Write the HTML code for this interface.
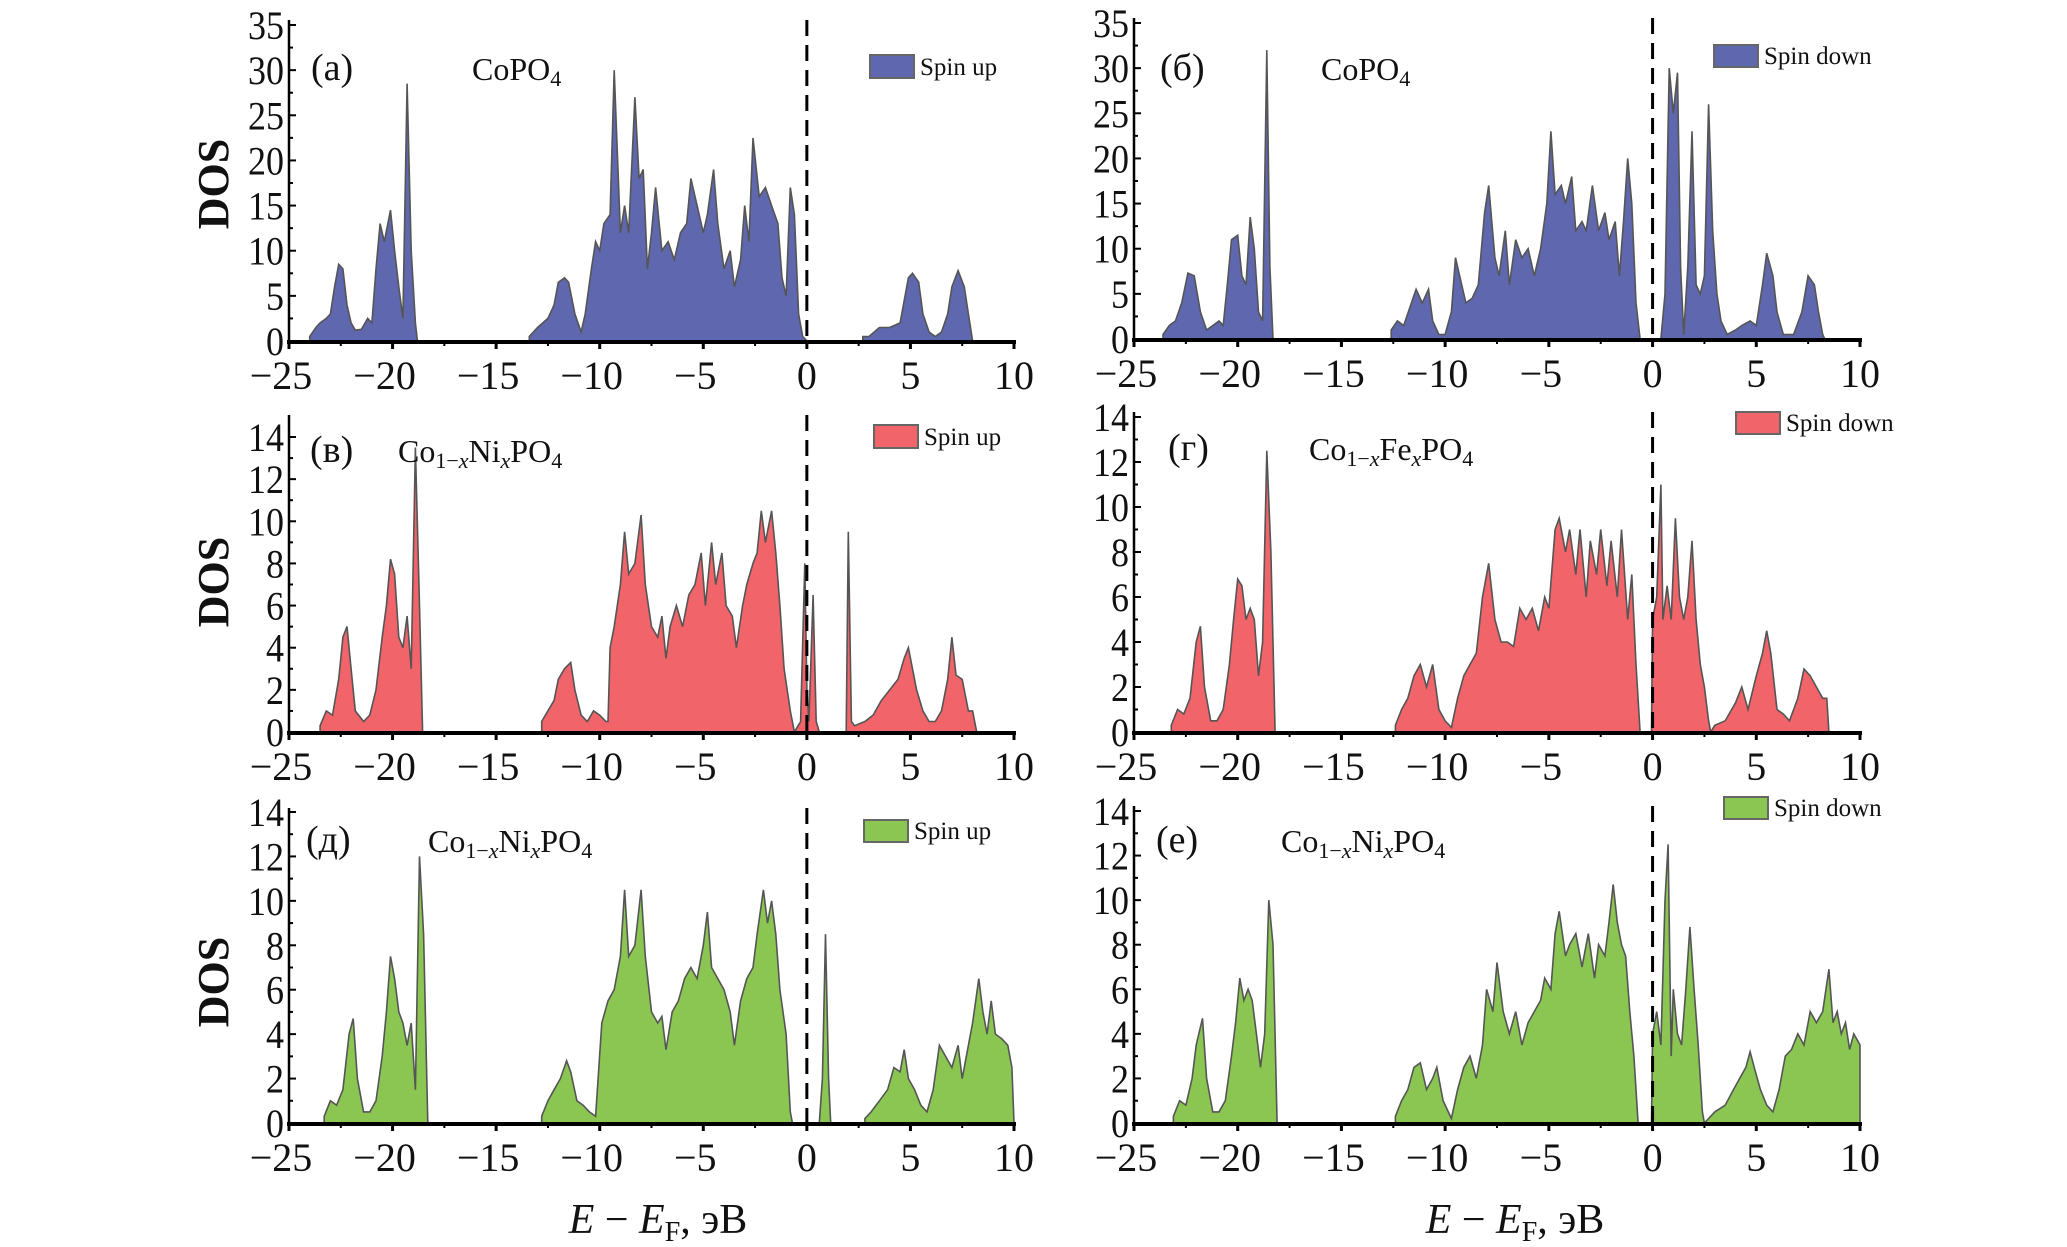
<!DOCTYPE html>
<html>
<head>
<meta charset="utf-8">
<style>
  html, body { margin:0; padding:0; background:#fff; }
  body { width:2067px; height:1247px; overflow:hidden; }
  svg { display:block; }
  text { font-family: "Liberation Serif", "DejaVu Serif", serif; fill:#111; }
</style>
</head>
<body>
<svg id="fig" width="2067" height="1247" viewBox="0 0 2067 1247" xmlns="http://www.w3.org/2000/svg"></svg>
<script>
// ---------- DATA ----------
// Panel (a) CoPO4 spin up
const energyA = [-24.0,-23.7,-23.5,-23.2,-23.0,-22.8,-22.6,-22.4,-22.2,-22.0,-21.8,-21.5,-21.2,-21.0,-20.8,-20.6,-20.4,-20.1,-19.9,-19.7,-19.5,-19.3,-19.1,-18.9,-18.8,
  -13.4,-13.0,-12.5,-12.2,-12.0,-11.7,-11.5,-11.2,-10.9,-10.7,-10.4,-10.2,-10.0,-9.8,-9.5,-9.3,-9.0,-8.8,-8.6,-8.3,-8.1,-7.9,-7.7,-7.5,-7.3,-7.0,-6.7,-6.4,-6.1,-5.8,-5.6,-5.3,-5.0,-4.8,-4.5,-4.3,-4.0,-3.7,-3.5,-3.2,-3.0,-2.8,-2.6,-2.3,-2.0,-1.7,-1.4,-1.2,-1.0,-0.8,-0.6,-0.4,-0.2,0.0,
  2.7,3.0,3.5,4.0,4.5,4.9,5.1,5.4,5.6,5.9,6.2,6.5,6.8,7.0,7.3,7.6,7.8,8.0];
const dosA = [0.5,1.5,2,2.5,3,6,8.5,8,4,2,1.2,1.3,2.5,2,8,13,11,14.5,10,6,2.5,28.5,10,2,0,
  0.5,1.5,2.5,4,6.5,7,6.5,3,1,3,8,11,10,13,14,30,12,15,12,27,18,19,8,12,17,10,11,9,12,13,18,15,12,14,19,13,8,10,6,9,15,11,22.5,16,17,15,13,7,5,17,14,3,0.5,0,
  0.5,0.5,1.5,1.5,2,7,7.5,6.5,3,1,0.5,1,3,6,7.8,6,3,0];
// Panel (б) CoPO4 spin down
const energyB = [-23.6,-23.3,-23.0,-22.7,-22.4,-22.1,-21.8,-21.5,-21.2,-20.9,-20.7,-20.5,-20.3,-20.0,-19.8,-19.6,-19.4,-19.2,-19.0,-18.8,-18.6,-18.45,-18.3,
  -12.6,-12.3,-12.0,-11.7,-11.4,-11.1,-10.8,-10.6,-10.3,-10.0,-9.7,-9.5,-9.2,-9.0,-8.7,-8.4,-8.1,-7.9,-7.6,-7.4,-7.1,-6.9,-6.6,-6.3,-6.0,-5.7,-5.4,-5.1,-4.9,-4.7,-4.4,-4.2,-3.9,-3.7,-3.4,-3.2,-2.9,-2.6,-2.3,-2.1,-1.8,-1.6,-1.4,-1.2,-1.0,-0.8,-0.6,
  0.4,0.6,0.8,1.0,1.2,1.35,1.5,1.7,1.9,2.1,2.3,2.5,2.7,2.9,3.1,3.3,3.6,4.0,4.3,4.7,5.0,5.3,5.5,5.8,6.0,6.3,6.8,7.2,7.5,7.8,8.0,8.2,8.3];
const dosB = [0.5,1.5,2,4,7.3,7,3,1,1.5,2,1.5,6,11,11.5,7,6,13.5,10,3,2,32,8,0,
  1,2,1.5,3.5,5.5,4,5.5,2,0.5,0.5,3,9,6,4,4.5,6,14,17,9,7,12,6,11,9,10,7,10,15,23,16,17,15,18,12,13,12,17,12,14,11,13,7,13,20,15,4,0,
  0,5,30,25,29.5,8,0.5,8,23,6,5,7,26,12,5,2,0.5,1,1.5,2,1.5,6,9.5,7,3,0.5,0.5,3,7,6,3,0.5,0];
// Panel (в) Co1-xNixPO4 spin up
const energyC = [-23.5,-23.2,-22.9,-22.6,-22.4,-22.2,-22.0,-21.8,-21.4,-21.1,-20.8,-20.5,-20.3,-20.1,-19.9,-19.7,-19.5,-19.3,-19.1,-18.9,-18.7,-18.55,
  -12.8,-12.5,-12.2,-12.0,-11.7,-11.4,-11.2,-10.9,-10.6,-10.3,-10.0,-9.7,-9.6,-9.5,-9.3,-9.0,-8.8,-8.6,-8.3,-8.0,-7.8,-7.5,-7.2,-7.0,-6.8,-6.6,-6.3,-6.0,-5.7,-5.4,-5.1,-4.9,-4.6,-4.4,-4.1,-3.9,-3.6,-3.4,-3.1,-2.9,-2.6,-2.4,-2.2,-2.0,-1.7,-1.5,-1.3,-1.1,-0.8,-0.6,
  -0.3,-0.1,0.0,0.1,0.3,0.45,0.6,1.9,2.0,2.15,2.3,2.8,3.2,3.6,4.0,4.4,4.7,4.9,5.1,5.3,5.6,5.9,6.2,6.5,6.8,7.0,7.2,7.5,7.8,8.0,8.2];
const dosC = [0.3,1,0.8,2.5,4.5,5,3,1,0.5,0.8,2,4.5,6,8.2,7.5,4.5,4,5.5,3,13.5,6,0,
  0.5,1,1.5,2.5,3,3.3,2,0.8,0.5,1,0.8,0.5,0.5,4,5,7,9.5,7.5,8,10.3,7,5,4.5,5.5,3.5,5,6,5,6.5,7,8.5,6,9,7,8.5,6,5.5,4,6,7,8,8.5,10.5,9,10.5,8.5,6,3,1,0,
  0.5,8,2,0.5,6.5,0.5,0,0,9.5,0.5,0.3,0.5,0.8,1.5,2,2.5,3.5,4,3,2,1,0.5,0.5,1,2.5,4.5,2.7,2.5,1,1,0];
// Panel (г) Co1-xFexPO4 spin down
const energyD = [-23.2,-22.9,-22.6,-22.3,-22.0,-21.8,-21.6,-21.3,-21.0,-20.7,-20.4,-20.2,-20.0,-19.8,-19.6,-19.4,-19.2,-19.0,-18.8,-18.6,-18.4,-18.2,
  -12.4,-12.1,-11.8,-11.5,-11.2,-10.9,-10.6,-10.3,-10.0,-9.7,-9.4,-9.1,-8.8,-8.5,-8.2,-7.9,-7.6,-7.3,-7.0,-6.7,-6.4,-6.1,-5.8,-5.5,-5.2,-5.0,-4.7,-4.5,-4.2,-4.0,-3.7,-3.5,-3.2,-3.0,-2.7,-2.5,-2.2,-2.0,-1.7,-1.5,-1.2,-1.0,-0.8,-0.6,
  -0.05,0.0,0.2,0.4,0.5,0.7,0.9,1.1,1.3,1.5,1.7,1.9,2.1,2.3,2.5,2.7,2.8,3.0,3.5,4.0,4.3,4.6,5.0,5.3,5.5,5.7,6.0,6.3,6.6,7.0,7.3,7.6,7.9,8.2,8.4,8.5];
const dosD = [0.3,1,0.8,1.5,4,4.7,2,0.5,0.5,1,3,5,6.8,6.5,5,5.5,5,2.5,4,12.5,8,0,
  0.3,1,1.5,2.5,3,2,3,1,0.5,0.2,1.5,2.5,3,3.5,6,7.5,5,4,4,3.8,5.5,5,5.5,4.5,6,5.5,9,9.5,8,9,7,9,6,8.5,7,9,6.5,8.5,6,9,5,7,3,0,
  0,5,6,11,5,6.5,5,9.5,6,5,6,8.5,5,3,2,0.5,0,0.3,0.5,1.3,2,1,2.5,3.5,4.5,3.5,1,0.8,0.5,1.5,2.8,2.5,2,1.5,1.5,0];
// Panel (д) Co1-xNixPO4 spin up
const energyE = [-23.3,-23.0,-22.7,-22.4,-22.1,-21.9,-21.7,-21.4,-21.1,-20.8,-20.5,-20.3,-20.1,-19.9,-19.7,-19.5,-19.3,-19.1,-18.9,-18.7,-18.5,-18.3,
  -12.8,-12.5,-12.2,-11.9,-11.6,-11.4,-11.1,-10.8,-10.5,-10.2,-9.9,-9.6,-9.3,-9.0,-8.8,-8.6,-8.3,-8.0,-7.8,-7.5,-7.2,-7.0,-6.8,-6.5,-6.2,-5.9,-5.6,-5.3,-5.0,-4.8,-4.6,-4.3,-4.0,-3.7,-3.5,-3.2,-2.9,-2.6,-2.4,-2.1,-1.9,-1.7,-1.5,-1.3,-1.0,-0.8,-0.7,
  0.6,0.75,0.9,1.05,1.15,
  2.8,3.1,3.5,3.9,4.2,4.5,4.7,4.9,5.2,5.5,5.8,6.1,6.4,6.7,7.0,7.3,7.5,7.8,8.0,8.3,8.5,8.7,8.9,9.1,9.4,9.7,9.9,10.0];
const dosE = [0.3,1,0.8,1.5,4,4.7,2,0.5,0.5,1,3,5,7.5,6.5,5,4.5,3.5,4.5,1.5,12,8.5,0,
  0.3,1,1.5,2,2.8,2.3,1,0.8,0.5,0.3,4.5,5.5,6,7.5,10.5,7.5,8,10.5,7.5,5,4.5,4.8,3.3,5,5.5,6.5,7,6.5,8,9.5,7,6.5,6,5,3.5,5.5,6.5,7,8.5,10.5,9,10,8.5,6,4,0.5,0,
  0,2,8.5,2,0,
  0.2,0.5,1,1.5,2.5,2.3,3.3,2,1.5,0.8,0.5,1.5,3.5,3,2.5,3.5,2,3.5,4.5,6.5,5,4,5.5,4,3.8,3.5,2.5,0];
// Panel (е) Co1-xNixPO4 spin down
const energyF = [-23.1,-22.8,-22.5,-22.2,-22.0,-21.7,-21.5,-21.2,-20.9,-20.6,-20.3,-20.1,-19.9,-19.7,-19.5,-19.3,-19.1,-18.9,-18.7,-18.5,-18.3,-18.1,
  -12.4,-12.1,-11.8,-11.5,-11.2,-10.9,-10.6,-10.4,-10.1,-9.7,-9.4,-9.1,-8.8,-8.5,-8.2,-8.0,-7.7,-7.5,-7.2,-6.9,-6.6,-6.3,-6.0,-5.7,-5.4,-5.2,-4.9,-4.7,-4.5,-4.2,-4.0,-3.7,-3.4,-3.1,-2.8,-2.6,-2.3,-2.1,-1.9,-1.7,-1.5,-1.3,-1.1,-0.9,-0.7,
  -0.05,0.0,0.2,0.4,0.6,0.75,0.9,1.0,1.2,1.4,1.6,1.8,2.0,2.2,2.4,2.5,
  2.7,3.0,3.5,3.9,4.2,4.5,4.7,4.9,5.2,5.5,5.8,6.1,6.4,6.7,7.0,7.3,7.6,7.9,8.2,8.5,8.7,8.9,9.1,9.3,9.5,9.7,10.0];
const dosF = [0.3,1,0.8,2,3.5,4.7,2,0.5,0.5,1,3,4.5,6.5,5.5,6,5.5,4,2.5,4,10,8,0,
  0.3,1,1.5,2.5,2.7,1.5,2,2.5,1,0.2,1.5,2.5,3,2,3.5,6,5,7.2,5,4,5,3.5,4.5,5,5.5,6.5,6,8.5,9.5,7.5,8,8.5,7,8.5,6.5,8,7.5,9,10.7,9,8,7.5,5,3,0,
  0,4,5,3.5,10,12.5,3,6,4,3.5,6,8.8,6,3.5,0.5,0,
  0.2,0.5,0.8,1.5,2,2.5,3.2,2.5,1.5,0.8,0.5,1.5,3,3.3,4,3.5,5,4.5,5,6.9,4.5,5,4,4.5,3.3,4,3.5];

const xTicks = [-25,-20,-15,-10,-5,0,5,10];
const yTicksBig = [0,5,10,15,20,25,30,35];
const yTicksSmall = [0,2,4,6,8,10,12,14];

// ---------- LAYOUT ----------
const LX0 = 289, LX1 = 1014, RX0 = 1134, RX1 = 1860;
const panels = [
  {id:'a', label:'(a)', E:energyA, D:dosA, x0:LX0, x1:LX1, yb:341, yt:25, ymax:35, yt2:20, ticks:yTicksBig, fill:'#5f67ae', legend:'Spin up', lx:870, ly:55, lw:44, lh:23, tag:[311,80], form:[472,80], formula:'co'},
  {id:'b', label:'(б)', E:energyB, D:dosB, x0:RX0, x1:RX1, yb:339, yt:23, ymax:35, yt2:18, ticks:yTicksBig, fill:'#5f67ae', legend:'Spin down', lx:1714, ly:45, lw:44, lh:22, tag:[1160,80], form:[1321,80], formula:'co'},
  {id:'c', label:'(в)', E:energyC, D:dosC, x0:LX0, x1:LX1, yb:732, yt:437, ymax:14, yt2:415, ticks:yTicksSmall, fill:'#f0646a', legend:'Spin up', lx:874, ly:425, lw:44, lh:23, tag:[310,462], form:[398,462], formula:'ni'},
  {id:'d', label:'(г)', E:energyD, D:dosD, x0:RX0, x1:RX1, yb:732, yt:417, ymax:14, yt2:412, ticks:yTicksSmall, fill:'#f0646a', legend:'Spin down', lx:1736, ly:412, lw:44, lh:22, tag:[1168,460], form:[1309,460], formula:'fe'},
  {id:'e', label:'(д)', E:energyE, D:dosE, x0:LX0, x1:LX1, yb:1123, yt:812, ymax:14, yt2:808, ticks:yTicksSmall, fill:'#8bc653', legend:'Spin up', lx:864, ly:820, lw:44, lh:22, tag:[306,852], form:[428,852], formula:'ni'},
  {id:'f', label:'(е)', E:energyF, D:dosF, x0:RX0, x1:RX1, yb:1123, yt:811, ymax:14, yt2:806, ticks:yTicksSmall, fill:'#8bc653', legend:'Spin down', lx:1724, ly:797, lw:44, lh:22, tag:[1156,852], form:[1281,852], formula:'ni'}
];

const NS = 'http://www.w3.org/2000/svg';
const svg = document.getElementById('fig');
function mk(tag, attrs, parent) {
  const el = document.createElementNS(NS, tag);
  for (const k in attrs) el.setAttribute(k, attrs[k]);
  (parent || svg).appendChild(el);
  return el;
}

panels.forEach(p => {
  const g = mk('g', {});
  
  
  const xs = e => p.x0 + (e + 25) / 35 * (p.x1 - p.x0);
  const ys = v => p.yb - v / p.ymax * (p.yb - p.yt);

  let segs = [], cur = [];
  for (let i = 0; i < p.E.length; i++) {
    if (cur.length && p.E[i] - p.E[i-1] > 1.0) { segs.push(cur); cur = []; }
    cur.push(i);
  }
  if (cur.length) segs.push(cur);
  segs.forEach((s, si) => {
    let pts = [xs(p.E[s[0]]).toFixed(1) + ',' + p.yb];
    s.forEach(i => pts.push(xs(p.E[i]).toFixed(1) + ',' + ys(p.D[i]).toFixed(1)));
    pts.push(xs(p.E[s[s.length-1]]).toFixed(1) + ',' + p.yb);
    const poly = mk('polygon', {points: pts.join(' '), fill: p.fill, stroke: '#555', 'stroke-width': 1.6, 'stroke-linejoin': 'miter'}, g);
    
    
  });

  const xa = mk('line', {x1: p.x0 - 2, y1: p.yb + 1, x2: p.x1 + 2, y2: p.yb + 1, stroke: '#000', 'stroke-width': 4}, g);
  
  
  const ya = mk('line', {x1: p.x0, y1: p.yt2, x2: p.x0, y2: p.yb + 3, stroke: '#000', 'stroke-width': 2.5}, g);
  
  

  xTicks.forEach((t, k) => {
    const x = xs(t);
    mk('line', {x1: x, y1: p.yb, x2: x, y2: p.yb + 8, stroke: '#000', 'stroke-width': 3}, g);
    if (k < xTicks.length - 1) {
      const xm = xs(t + 2.5);
      mk('line', {x1: xm, y1: p.yb, x2: xm, y2: p.yb + 5, stroke: '#000', 'stroke-width': 2}, g);
    }
    const lab = mk('text', {x: t < 0 ? x - 8 : x, y: p.yb + 48, 'font-size': 40, 'text-anchor': 'middle'}, g);
    lab.textContent = t < 0 ? '\u2212' + Math.abs(t) : String(t);
    
    
  });
  p.ticks.forEach((t, k) => {
    const y = ys(t);
    mk('line', {x1: p.x0, y1: y, x2: p.x0 + 7, y2: y, stroke: '#000', 'stroke-width': 2}, g);
    if (k < p.ticks.length - 1) {
      const ym = ys(t + (p.ticks[1] - p.ticks[0]) / 2);
      mk('line', {x1: p.x0, y1: ym, x2: p.x0 + 4, y2: ym, stroke: '#000', 'stroke-width': 2}, g);
    }
    const lab = mk('text', {x: p.x0 - 5, y: y + 14, 'font-size': 40, 'text-anchor': 'end', 'textLength': String(t).length > 1 ? 36 : 18, 'lengthAdjust': 'spacingAndGlyphs'}, g);
    lab.textContent = String(t);
    
    
  });

  const fl = mk('line', {x1: xs(0), y1: p.yt2, x2: xs(0), y2: p.yb, stroke: '#000', 'stroke-width': 3, 'stroke-dasharray': '16 9'}, g);
  
  

  const lg = mk('g', {}, g);
  
  
  mk('rect', {x: p.lx, y: p.ly, width: p.lw, height: p.lh, fill: p.fill, stroke: '#666', 'stroke-width': 2}, lg);
  const lt = mk('text', {x: p.lx + p.lw + 6, y: p.ly + p.lh - 3, 'font-size': 25}, lg);
  lt.textContent = p.legend;

  const tg = mk('text', {x: p.tag[0], y: p.tag[1], 'font-size': 38}, g);
  tg.textContent = p.label;
  
  

  const f = mk('text', {x: p.form[0], y: p.form[1], 'font-size': 32}, g);
  
  
  if (p.formula === 'co') {
    f.innerHTML = 'CoPO<tspan font-size="22" dy="6">4</tspan>';
  } else {
    const el = p.formula === 'ni' ? 'Ni' : 'Fe';
    f.innerHTML = 'Co<tspan font-size="22" dy="6">1\u2212<tspan font-style="italic">x</tspan></tspan><tspan dy="-6">' + el + '</tspan><tspan font-size="22" dy="6" font-style="italic">x</tspan><tspan dy="-6">PO</tspan><tspan font-size="22" dy="6">4</tspan>';
  }
});

[184, 582, 982].forEach((cy, i) => {
  const t = mk('text', {x: 0, y: 0, 'font-size': 44, 'font-weight': 'bold', 'text-anchor': 'middle', transform: 'translate(228,' + cy + ') rotate(-90)'});
  t.textContent = 'DOS';
  
  
});
[658, 1515].forEach(cx => {
  const t = mk('text', {x: cx, y: 1233, 'font-size': 42, 'text-anchor': 'middle'});
  t.innerHTML = '<tspan font-style="italic">E</tspan> \u2212 <tspan font-style="italic">E</tspan><tspan font-size="28" dy="8">F</tspan><tspan dy="-8">, эВ</tspan>';
  
  
});
</script>
</body>
</html>
